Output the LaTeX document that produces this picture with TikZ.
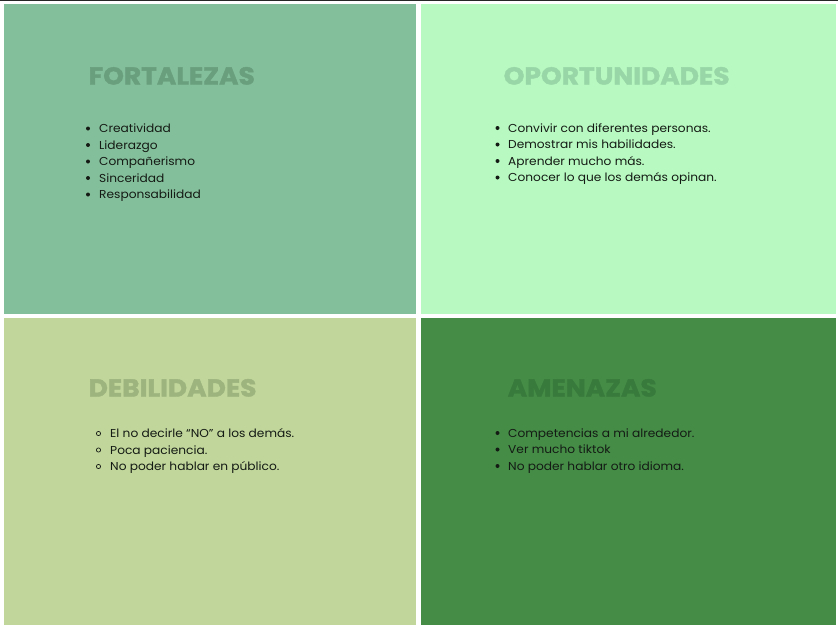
\documentclass[tikz,border=0pt]{standalone}
\usepackage{fontspec}
\setmainfont{Poppins}[FakeStretch=1.06]
\newfontfamily\ttlfont{Poppins}[FakeStretch=1.08,BoldFeatures={FakeBold=1.6}]
\usetikzlibrary{positioning}
\definecolor{cTL}{HTML}{84BF9B}
\definecolor{cTR}{HTML}{B7F9C0}
\definecolor{cBL}{HTML}{C0D69A}
\definecolor{cBR}{HTML}{458D47}
\definecolor{tTL}{HTML}{6A9F7E}
\definecolor{tTR}{HTML}{98D6A7}
\definecolor{tBL}{HTML}{9DB47F}
\definecolor{tBR}{HTML}{387A3B}
\definecolor{bodytxt}{HTML}{141A14}
\tikzset{
  x=1pt, y=-1pt,
  ttl/.style={anchor=base west, inner sep=0pt, font=\ttlfont\bfseries\fontsize{24.5}{24.5}\selectfont},
  item/.style={anchor=base west, inner sep=0pt, text=bodytxt, font=\fontsize{11.5}{13}\selectfont},
  dot/.style={circle, fill=bodytxt, inner sep=0pt, minimum size=4pt},
  ring/.style={circle, draw=bodytxt, line width=0.7pt, inner sep=0pt, minimum size=4.2pt}
}
\begin{document}
\begin{tikzpicture}
\useasboundingbox (0,0) rectangle (838,625);
\fill[white] (0,0) rectangle (838,625);
\fill[black!85] (0,0) rectangle (838,1.2);
% panels
\fill[cTL] (4,4) rectangle (415.5,313.5);
\fill[cTR] (420.5,4) rectangle (836,313.5);
\fill[cBL] (4,317.5) rectangle (415.5,625);
\fill[cBR] (420.5,317.5) rectangle (836,625);
% titles
\node[ttl, text=tTL] (t1) at (88.5,84.5) {FORTALEZAS};
\node[ttl, text=tTR] (t2) at (503.5,84.5) {OPORTUNIDADES};
\node[ttl, text=tBL] (t3) at (88.5,396.5) {DEBILIDADES};
\node[ttl, text=tBR] (t4) at (507.5,396.5) {AMENAZAS};
% FORTALEZAS
\node[item] (f1) at (99,132.5) {Creatividad};
\node[item] (f2) at (99,149) {Liderazgo};
\node[item] (f3) at (99,165.5) {Compañerismo};
\node[item] (f4) at (99,182) {Sinceridad};
\node[item] (f5) at (99,198.5) {Responsabilidad};
\foreach \i/\y in {1/128.5,2/145,3/161.5,4/178,5/194.5}{\node[dot] (fb\i) at (88,\y) {};}
% OPORTUNIDADES
\node[item] (o1) at (508,132) {Convivir con diferentes personas.};
\node[item] (o2) at (508,148.5) {Demostrar mis habilidades.};
\node[item] (o3) at (508,165) {Aprender mucho más.};
\node[item] (o4) at (508,181.5) {Conocer lo que los demás opinan.};
\foreach \i/\y in {1/128,2/144.5,3/161,4/177.5}{\node[dot] (ob\i) at (497.5,\y) {};}
% DEBILIDADES
\node[item] (d1) at (110,437.5) {El no decirle “NO” a los demás.};
\node[item] (d2) at (110,454) {Poca paciencia.};
\node[item] (d3) at (110,470.5) {No poder hablar en público.};
\foreach \i/\y in {1/433.5,2/450,3/466.5}{\node[ring] (db\i) at (98.5,\y) {};}
% AMENAZAS
\node[item] (a1) at (508,437) {Competencias a mi alrededor.};
\node[item] (a2) at (508,453.5) {Ver mucho tiktok};
\node[item] (a3) at (508,470) {No poder hablar otro idioma.};
\foreach \i/\y in {1/433,2/449.5,3/466}{\node[dot] (ab\i) at (497.5,\y) {};}
\end{tikzpicture}
\end{document}
